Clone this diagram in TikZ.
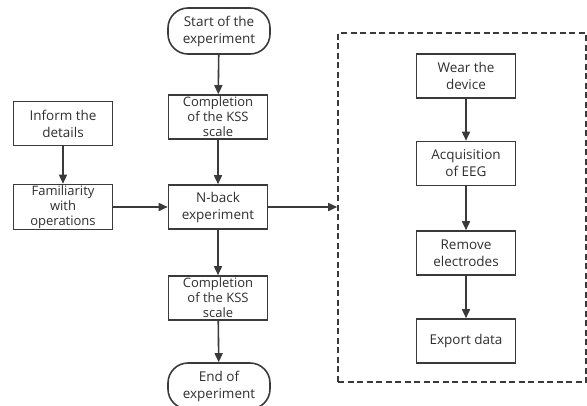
\documentclass[tikz,border=0pt]{standalone}
\usepackage{fontspec}
\setmainfont{Open Sans}
\usetikzlibrary{arrows.meta}
\definecolor{linegray}{HTML}{3A3A3A}
\definecolor{textgray}{HTML}{2E2E2E}
\tikzset{
	stepbox/.style={draw=linegray, line width=1.6pt, rectangle, align=center, text=textgray,
		minimum width=99pt, minimum height=44pt, inner sep=1pt, font=\fontsize{13pt}{15pt}\selectfont},
	bigtext/.style={font=\fontsize{13.5pt}{17pt}\selectfont},
	terminal/.style={stepbox, bigtext, minimum width=102pt, minimum height=46pt, rounded corners=20pt},
	flow/.style={draw=linegray, line width=1.6pt, -{Triangle[length=9pt,width=8pt]}},
}
\begin{document}
\begin{tikzpicture}[x=1pt, y=-1pt]
	\clip (0,0) rectangle (587,405);
	
		\def \MidX {218}
		\def \LeftX {63}
		\def \RightX {466}
		
		\node (Start) at (\MidX+1,31) [terminal]{Start of the\\experiment};
		\node (KSS1) at (\MidX,117) [stepbox]{Completion\\of the KSS\\scale};
		\node (NBack) at (\MidX,207) [stepbox, bigtext]{N-back\\experiment};
		\node (KSS2) at (\MidX,298) [stepbox]{Completion\\of the KSS\\scale};
		\node (End) at (\MidX+1,386) [terminal]{End of\\experiment};
		
		\node (Inform) at (\LeftX,123.5) [stepbox, bigtext]{Inform the\\details};
		\node (Famil) at (\LeftX,207) [stepbox]{Familiarity\\with\\operations};
		
		\node (Device) at (462,207.5) [draw=linegray, line width=1.6pt, dash pattern=on 6pt off 3.5pt, minimum width=248pt, minimum height=349pt]{};
		\node (Wear) at (\RightX,76) [stepbox, bigtext]{Wear the\\device};
		\node (Acq) at (\RightX,163.5) [stepbox, bigtext]{Acquisition\\of EEG};
		\node (Remove) at (\RightX,253) [stepbox, bigtext]{Remove\\electrodes};
		\node (Export) at (\RightX,341) [stepbox, bigtext]{Export data};
		
		\draw[flow] (Start) -- (KSS1);
		\draw[flow] (KSS1) -- (NBack);
		\draw[flow] (NBack) -- (KSS2);
		\draw[flow] (KSS2) -- (End);
		\draw[flow] (Inform) -- (Famil);
		\draw[flow] (Famil) -- (NBack);
		\draw[flow] (NBack.east) -- (NBack.east -| Device.west);
		\draw[flow] (Wear) -- (Acq);
		\draw[flow] (Acq) -- (Remove);
		\draw[flow] (Remove) -- (Export);
	
	\end{tikzpicture}
\end{document}
